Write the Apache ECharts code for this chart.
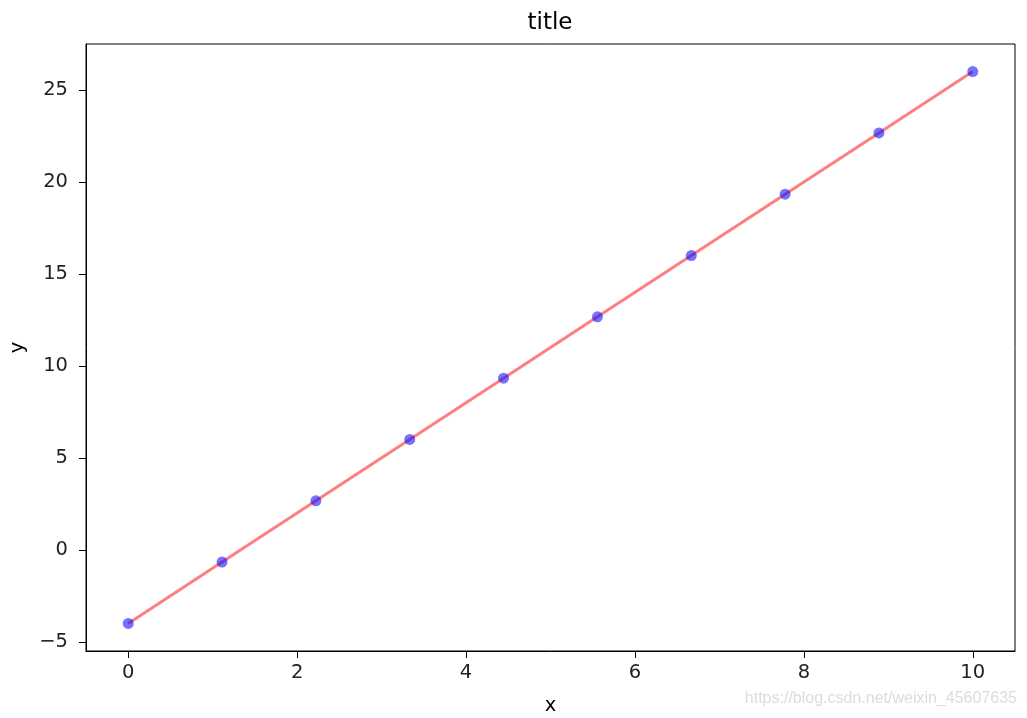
<!DOCTYPE html>
<html>
<head>
<meta charset="utf-8">
<script src="https://cdn.jsdelivr.net/npm/echarts@6/dist/echarts.min.js"></script>
<style>
html,body{margin:0;padding:0;background:#fff;}
#chart{width:1027px;height:718px;}
</style>
</head>
<body>
<div id="chart"></div>
<script>
const xValues = [0, 1.111, 2.222, 3.333, 4.444, 5.556, 6.667, 7.778, 8.889, 10];
const yValues = [-4, -0.667, 2.667, 6, 9.333, 12.667, 16, 19.333, 22.667, 26];
const xTicks = [0, 2, 4, 6, 8, 10];
const yTicks = [-5, 0, 5, 10, 15, 20, 25];
const titleText = 'title';
const xName = 'x';
const yName = 'y';
const watermark = 'https://blog.csdn.net/weixin_45607635';

const points = xValues.map((x, i) => [x, yValues[i]]);
const font = 'DejaVu Sans';
const fmt = v => String(v).replace('-', '\u2212');

const chart = echarts.init(document.getElementById('chart'));
chart.setOption({
  animation: false,
  backgroundColor: '#fff',
  title: {
    text: titleText, left: 550, textAlign: 'center', top: 12, padding: 0,
    textStyle: {fontFamily: font, fontSize: 23, fontWeight: 'normal', color: '#000'}
  },
  grid: {
    left: 86, right: 12, top: 44, bottom: 67,
    show: true, borderColor: '#000', borderWidth: 1,
    outerBoundsMode: 'none'
  },
  xAxis: {
    type: 'value', min: -0.5, max: 10.5,
    name: xName, nameLocation: 'middle', nameGap: 45,
    nameTextStyle: {fontFamily: font, fontSize: 19.5, color: '#000'},
    axisLine: {show: true, onZero: false, lineStyle: {color: '#000', width: 1}},
    axisTick: {show: true, length: 7, customValues: xTicks, lineStyle: {color: '#000'}},
    axisLabel: {customValues: xTicks, formatter: fmt, fontFamily: font, fontSize: 19.5, color: '#222', margin: 12},
    splitLine: {show: false}
  },
  yAxis: {
    type: 'value', min: -5.5, max: 27.5,
    name: yName, nameLocation: 'middle', nameGap: 56, nameRotate: 90,
    nameTextStyle: {fontFamily: font, fontSize: 19.5, color: '#000'},
    axisLine: {show: true, onZero: false, lineStyle: {color: '#000', width: 1}},
    axisTick: {show: true, length: 7, customValues: yTicks, lineStyle: {color: '#000'}},
    axisLabel: {customValues: yTicks, formatter: fmt, fontFamily: font, fontSize: 19.5, color: '#222', margin: 18},
    splitLine: {show: false}
  },
  series: [
    {
      type: 'line', data: points, showSymbol: false, symbol: 'none',
      lineStyle: {color: 'rgba(255,0,0,0.5)', width: 3}, z: 2
    },
    {
      type: 'scatter', data: points, symbolSize: 11,
      itemStyle: {color: 'rgba(0,0,255,0.55)', opacity: 1}, z: 3
    }
  ],
  graphic: [
    {
      type: 'text', right: 10, top: 691,
      style: {text: watermark, fontFamily: 'Liberation Sans', fontSize: 16, fill: '#dcdcdc'}
    }
  ]
});
</script>
</body>
</html>
